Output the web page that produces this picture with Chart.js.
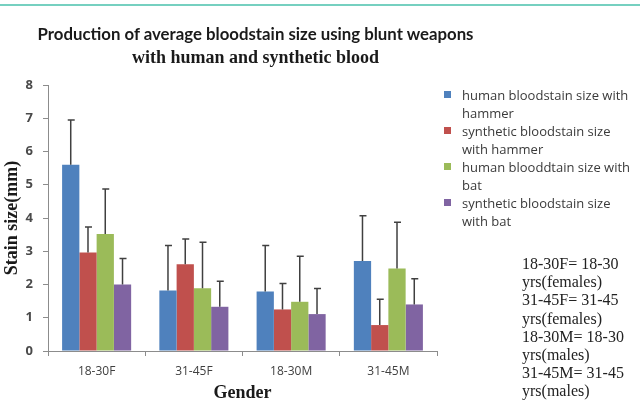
<!DOCTYPE html>
<html>
<head>
<meta charset="utf-8">
<script src="https://cdn.jsdelivr.net/npm/chart.js@4.4.1/dist/chart.umd.min.js"></script>
<style>
  html, body { margin: 0; padding: 0; background: #fff; }
  #wrap { position: relative; width: 640px; height: 405px; overflow: hidden; }
  #topline { position: absolute; left: 0; top: 4px; width: 640px; height: 2px; background: #76d0c0; }
  #chart { position: absolute; left: 0; top: 0; }
  .title1 { position: absolute; left: 0; width: 511px; top: 23px; text-align: center;
            font: bold 16.8px Lato, sans-serif; color: #1a1a1a; }
  .title2 { position: absolute; left: 0; width: 511px; top: 47px; text-align: center;
            font: bold 18px "Liberation Serif", serif; color: #1a1a1a; }
  #legend { position: absolute; left: 444px; top: 86px; width: 196px;
            font: 13px "Open Sans", sans-serif; color: #3a3a3a; line-height: 18px; }
  #legend .item { position: relative; padding-left: 18px; }
  #legend .sw { position: absolute; left: 0; top: 5px; width: 7px; height: 7px; }
  #notes { position: absolute; left: 522px; top: 255px;
           font: 16px "Liberation Serif", serif; color: #222; line-height: 18.2px; }
</style>
</head>
<body>
<div id="wrap">
  <div id="topline"></div>
  <canvas id="chart" width="640" height="405"></canvas>
  <div class="title1">Production of average bloodstain size using blunt weapons</div>
  <div class="title2">with human and synthetic blood</div>
  <div id="legend"></div>
  <div id="notes">18-30F= 18-30<br>yrs(females)<br>31-45F= 31-45<br>yrs(females)<br>18-30M= 18-30<br>yrs(males)<br>31-45M= 31-45<br>yrs(males)</div>
</div>
<script>
// categories and series
const categories = ['18-30F', '31-45F', '18-30M', '31-45M'];
const seriesNames = [
    ['human bloodstain size with', 'hammer'],
    ['synthetic bloodstain size', 'with hammer'],
    ['human blooddtain size with', 'bat'],
    ['synthetic bloodstain size', 'with bat']
];
const humanHammer = [5.6, 1.82, 1.79, 2.71];
const synthHammer = [2.96, 2.61, 1.25, 0.78];
const humanBat = [3.52, 1.89, 1.48, 2.48];
const synthBat = [2.0, 1.33, 1.11, 1.4];

// upper error bar lengths
const humanHammerErr = [1.35, 1.35, 1.38, 1.36];
const synthHammerErr = [0.77, 0.76, 0.78, 0.78];
const humanBatErr = [1.35, 1.38, 1.37, 1.39];
const synthBatErr = [0.78, 0.77, 0.77, 0.77];

const yTicks = [0, 1, 2, 3, 4, 5, 6, 7, 8];

const colors = ['#4f81bd', '#c0504d', '#9bbb59', '#8064a2'];
const values = [humanHammer, synthHammer, humanBat, synthBat];
const errors = [humanHammerErr, synthHammerErr, humanBatErr, synthBatErr];

// error bars drawn on top of the bars
const errorBars = {
    id: 'errorBars',
    afterDatasetsDraw(chart) {
        const c = chart.ctx;
        const y = chart.scales.y;
        c.save();
        c.strokeStyle = '#404040';
        c.lineWidth = 1.5;
        chart.data.datasets.forEach((ds, i) => {
            const meta = chart.getDatasetMeta(i);
            meta.data.forEach((bar, j) => {
                const top = y.getPixelForValue(ds.data[j] + ds.errors[j]);
                c.beginPath();
                c.moveTo(bar.x, bar.y);
                c.lineTo(bar.x, top);
                c.moveTo(bar.x - 3, top);
                c.lineTo(bar.x + 4, top);
                c.stroke();
            });
        });
        c.restore();
    }
};

const ctx = document.getElementById('chart');

new Chart(ctx, {
    type: 'bar',
    data: {
        labels: categories,
        datasets: values.map((v, i) => ({
            label: seriesNames[i].join(' '),
            data: v,
            errors: errors[i],
            backgroundColor: colors[i],
            borderWidth: 0,
            categoryPercentage: 0.71,
            barPercentage: 1.0
        }))
    },
    options: {
        responsive: false,
        animation: false,
        layout: { padding: { left: 0, right: 203, top: 85, bottom: 0 } },
        plugins: {
            legend: { display: false },
            tooltip: { enabled: false }
        },
        scales: {
            x: {
                afterFit: s => { s.height = 54; },
                grid: { drawOnChartArea: false, drawTicks: true, tickLength: 5, color: '#8c8c8c' },
                border: { color: '#8c8c8c' },
                ticks: { color: '#404040', font: { family: 'Open Sans', size: 12 }, padding: 8 },
                title: {
                    display: true, text: 'Gender', color: '#1a1a1a',
                    font: { family: 'Liberation Serif', size: 18, weight: 'bold' },
                    padding: { top: 0, bottom: 1 }
                }
            },
            y: {
                min: 0, max: 8,
                afterFit: s => { s.width = 48; },
                afterBuildTicks: s => { s.ticks = yTicks.map(v => ({ value: v })); },
                grid: { drawOnChartArea: false, drawTicks: true, tickLength: 5, color: '#8c8c8c' },
                border: { color: '#8c8c8c' },
                ticks: { color: '#4a4a4a', font: { family: 'Open Sans', size: 13, weight: 'bold' }, padding: 10 },
                title: {
                    display: true, text: 'Stain size(mm)', color: '#1a1a1a',
                    font: { family: 'Liberation Serif', size: 18, weight: 'bold' },
                    padding: { top: 2, bottom: 0 }
                }
            }
        }
    },
    plugins: [errorBars]
});

// legend as html, built from the series
const legend = document.getElementById('legend');
seriesNames.forEach((lines, i) => {
    const item = document.createElement('div');
    item.className = 'item';
    item.innerHTML = '<span class="sw" style="background:' + colors[i] + '"></span>' + lines.join('<br>');
    legend.appendChild(item);
});
</script>
</body>
</html>
